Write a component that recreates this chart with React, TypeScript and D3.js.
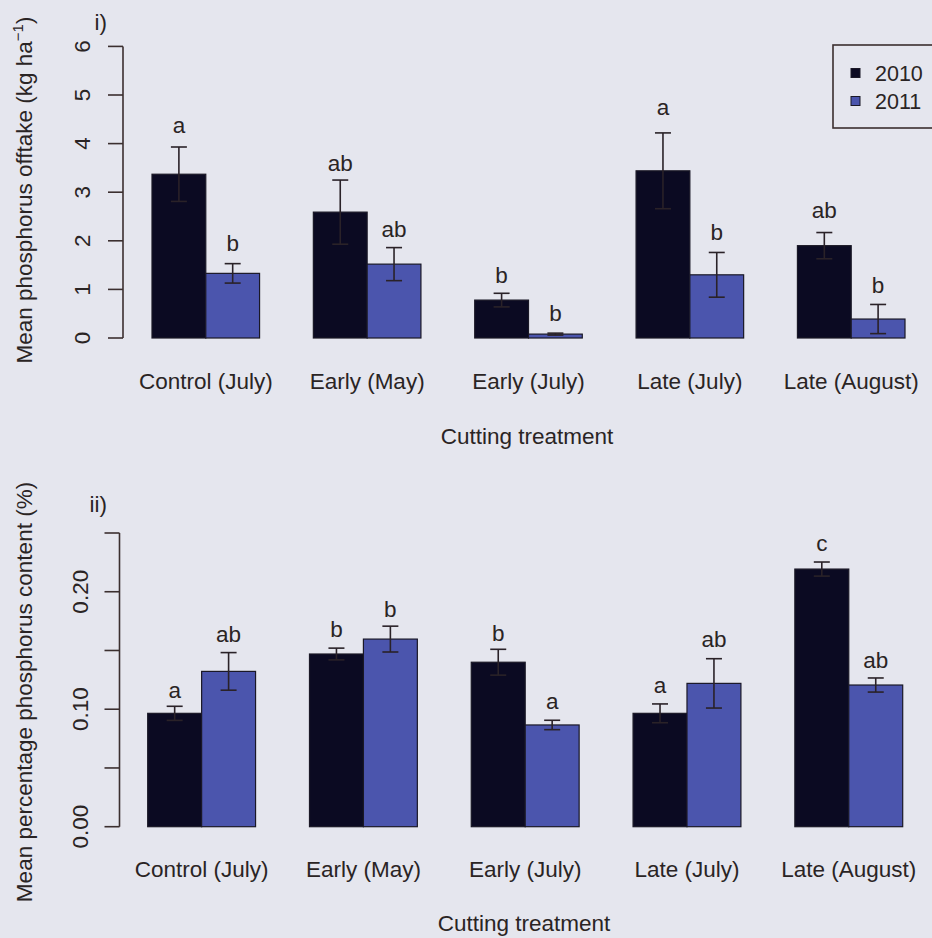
import React from "react";
import * as d3 from "d3";

const categories = ["Control (July)", "Early (May)", "Early (July)", "Late (July)", "Late (August)"];
const years = ["2010", "2011"];

// Panel i: mean phosphorus offtake (kg/ha)
const offtake2010 = [3.37, 2.59, 0.78, 3.44, 1.9];
const offtakeSE2010 = [0.56, 0.66, 0.14, 0.78, 0.27];
const offtake2011 = [1.33, 1.52, 0.08, 1.3, 0.39];
const offtakeSE2011 = [0.2, 0.34, 0.02, 0.46, 0.3];
const offtakeLetters2010 = ["a", "ab", "b", "a", "ab"];
const offtakeLetters2011 = ["b", "ab", "b", "b", "b"];
const offtakeLetterAt2010 = [4.21, 3.44, 1.13, 4.59, 2.46];
const offtakeLetterAt2011 = [1.78, 2.08, 0.34, 2.02, 0.92];
const offtakeTicks = [0, 1, 2, 3, 4, 5, 6];

// Panel ii: mean percentage phosphorus content (%)
const content2010 = [0.0965, 0.147, 0.14, 0.0965, 0.2193];
const contentSE2010 = [0.006, 0.005, 0.011, 0.008, 0.006];
const content2011 = [0.1322, 0.1597, 0.0866, 0.122, 0.1206];
const contentSE2011 = [0.016, 0.011, 0.004, 0.021, 0.006];
const contentLetters2010 = ["a", "b", "b", "a", "c"];
const contentLetters2011 = ["ab", "b", "a", "ab", "ab"];
const contentLetterAt2010 = [0.1093, 0.1617, 0.158, 0.1135, 0.2349];
const contentLetterAt2011 = [0.1574, 0.1782, 0.0999, 0.1532, 0.1348];
const contentTicks = [0, 0.05, 0.1, 0.15, 0.2, 0.25];
const contentTickLabels = ["0.00", "", "0.10", "", "0.20", ""];

const COL2010 = "#0b0a22";
const COL2011 = "#4b55ad";
const AXIS = "#3b2f2f";
const TEXT = "#2a2424";
const BG = "#e5e6ee";
const FONT = "'Liberation Sans', Arial, sans-serif";
const FS = 22.5;

type PanelProps = {
  v2010: number[];
  se2010: number[];
  v2011: number[];
  se2011: number[];
  l2010: string[];
  l2011: string[];
  la2010: number[];
  la2011: number[];
  ticks: number[];
  tickLabels: string[];
  yDomain: [number, number];
  yRange: [number, number];
  xRange: [number, number];
  axisX: number;
  tickLabelX: number;
  catBaseline: number;
  xTitleBaseline: number;
  xTitleX: number;
};

function Panel(p: PanelProps) {
  const y = d3.scaleLinear().domain(p.yDomain).range(p.yRange);
  const x = d3.scaleBand<string>().domain(categories).range(p.xRange).paddingInner(1 / 3).paddingOuter(0);
  const sub = d3.scaleBand<string>().domain(years).range([0, x.bandwidth()]).padding(0);
  const series = [
    { year: "2010", vals: p.v2010, se: p.se2010, letters: p.l2010, la: p.la2010, color: COL2010 },
    { year: "2011", vals: p.v2011, se: p.se2011, letters: p.l2011, la: p.la2011, color: COL2011 },
  ];
  const capHalf = 8;
  return (
    <g>
      {/* y axis */}
      <line x1={p.axisX} x2={p.axisX} y1={y(p.ticks[0])} y2={y(p.ticks[p.ticks.length - 1])} stroke={AXIS} strokeWidth={1.6} />
      {p.ticks.map((t, i) => (
        <g key={i}>
          <line x1={p.axisX - 15} x2={p.axisX} y1={y(t)} y2={y(t)} stroke={AXIS} strokeWidth={1.6} />
          {p.tickLabels[i] !== "" && (
            <text
              transform={`translate(${p.tickLabelX},${y(t)}) rotate(-90)`}
              textAnchor="middle"
              fontFamily={FONT}
              fontSize={FS}
              fill={TEXT}
            >
              {p.tickLabels[i]}
            </text>
          )}
        </g>
      ))}
      {/* bars */}
      {series.map((s) =>
        categories.map((c, i) => {
          const bx = (x(c) as number) + (sub(s.year) as number);
          const bw = sub.bandwidth();
          const cx = bx + bw / 2;
          const top = y(s.vals[i]);
          const hi = y(s.vals[i] + s.se[i]);
          const lo = y(Math.max(0, s.vals[i] - s.se[i]));
          return (
            <g key={s.year + c}>
              <rect x={bx} y={top} width={bw} height={y(0) - top} fill={s.color} stroke="#1a1826" strokeWidth={1.2} />
              <line x1={cx} x2={cx} y1={hi} y2={lo} stroke="#2a2228" strokeWidth={1.6} />
              <line x1={cx - capHalf} x2={cx + capHalf} y1={hi} y2={hi} stroke="#2a2228" strokeWidth={1.6} />
              <line x1={cx - capHalf} x2={cx + capHalf} y1={lo} y2={lo} stroke="#2a2228" strokeWidth={1.6} />
              <text x={cx} y={y(s.la[i])} textAnchor="middle" fontFamily={FONT} fontSize={FS} fill={TEXT}>
                {s.letters[i]}
              </text>
            </g>
          );
        })
      )}
      {/* category labels */}
      {categories.map((c) => (
        <text
          key={c}
          x={(x(c) as number) + x.bandwidth() / 2}
          y={p.catBaseline}
          textAnchor="middle"
          fontFamily={FONT}
          fontSize={FS}
          fill={TEXT}
        >
          {c}
        </text>
      ))}
      <text x={p.xTitleX} y={p.xTitleBaseline} textAnchor="middle" fontFamily={FONT} fontSize={FS} fill={TEXT}>
        Cutting treatment
      </text>
    </g>
  );
}

export default function App() {
  return (
    <svg
      width={932}
      height={938}
      style={{ position: "absolute", left: 0, top: 0, display: "block" }}
      xmlns="http://www.w3.org/2000/svg"
    >
      <rect x={0} y={0} width={932} height={938} fill={BG} />
      <Panel
        v2010={offtake2010}
        se2010={offtakeSE2010}
        v2011={offtake2011}
        se2011={offtakeSE2011}
        l2010={offtakeLetters2010}
        l2011={offtakeLetters2011}
        la2010={offtakeLetterAt2010}
        la2011={offtakeLetterAt2011}
        ticks={offtakeTicks}
        tickLabels={offtakeTicks.map((t) => String(t))}
        yDomain={[0, 6]}
        yRange={[338, 46.4]}
        xRange={[152, 905]}
        axisX={123}
        tickLabelX={90}
        catBaseline={389}
        xTitleBaseline={444}
        xTitleX={527}
      />
      <Panel
        v2010={content2010}
        se2010={contentSE2010}
        v2011={content2011}
        se2011={contentSE2011}
        l2010={contentLetters2010}
        l2011={contentLetters2011}
        la2010={contentLetterAt2010}
        la2011={contentLetterAt2011}
        ticks={contentTicks}
        tickLabels={contentTickLabels}
        yDomain={[0, 0.25]}
        yRange={[826.7, 533]}
        xRange={[147.7, 902.7]}
        axisX={119.5}
        tickLabelX={88}
        catBaseline={877}
        xTitleBaseline={931}
        xTitleX={524}
      />
      {/* y-axis titles */}
      <text transform="translate(32,190) rotate(-90)" textAnchor="middle" fontFamily={FONT} fontSize={FS} fill={TEXT}>
        Mean phosphorus offtake (kg ha
        <tspan dy={-9} fontSize={15}>−1</tspan>
        <tspan dy={9}>)</tspan>
      </text>
      <text transform="translate(32,692) rotate(-90)" textAnchor="middle" fontFamily={FONT} fontSize={FS} fill={TEXT}>
        Mean percentage phosphorus content (%)
      </text>
      {/* panel tags */}
      <text x={107} y={30} textAnchor="end" fontFamily={FONT} fontSize={FS} fill={TEXT}>i)</text>
      <text x={107} y={512} textAnchor="end" fontFamily={FONT} fontSize={FS} fill={TEXT}>ii)</text>
      {/* legend */}
      <rect x={833} y={45} width={120} height={83} fill="none" stroke={AXIS} strokeWidth={1.6} />
      {years.map((yr, i) => (
        <g key={yr}>
          <rect x={851} y={[73, 101][i] - 4.5} width={9} height={9} fill={[COL2010, COL2011][i]} stroke="#1a1826" strokeWidth={1} />
          <text x={875} y={[73, 101][i] + 7.5} fontFamily={FONT} fontSize={21.5} fill={TEXT}>
            {yr}
          </text>
        </g>
      ))}
    </svg>
  );
}
